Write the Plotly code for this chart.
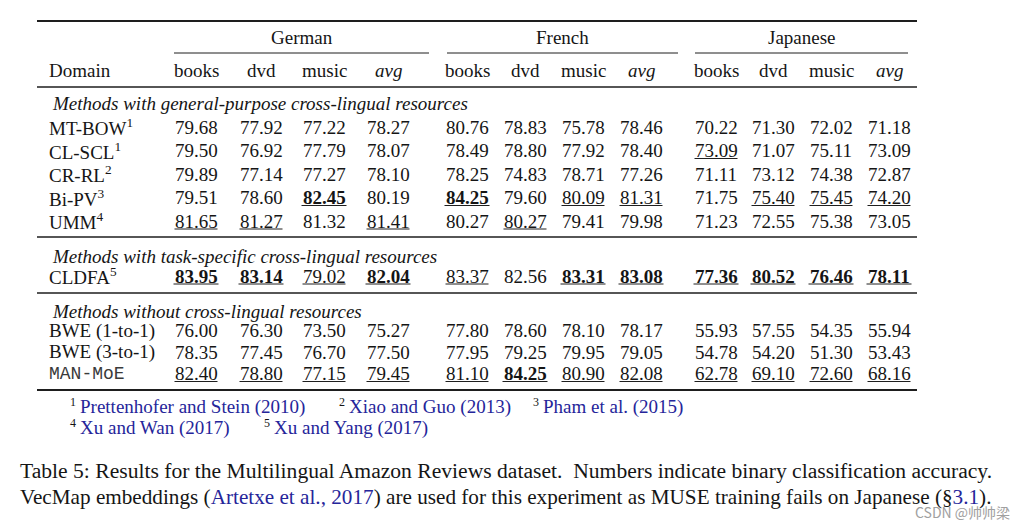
import plotly.graph_objects as go

# ---------------- data ----------------
languages = ["German", "French", "Japanese"]
domains = ["books", "dvd", "music", "avg"]
groups = [
    "Methods with general-purpose cross-lingual resources",
    "Methods with task-specific cross-lingual resources",
    "Methods without cross-lingual resources",
]
group_sizes = [5, 1, 3]
methods = ["MT-BOW", "CL-SCL", "CR-RL", "Bi-PV", "UMM", "CLDFA",
           "BWE (1-to-1)", "BWE (3-to-1)", "MAN-MoE"]
method_refs = ["1", "1", "2", "3", "4", "5", "", "", ""]

german = [
    [79.68, 77.92, 77.22, 78.27],
    [79.50, 76.92, 77.79, 78.07],
    [79.89, 77.14, 77.27, 78.10],
    [79.51, 78.60, 82.45, 80.19],
    [81.65, 81.27, 81.32, 81.41],
    [83.95, 83.14, 79.02, 82.04],
    [76.00, 76.30, 73.50, 75.27],
    [78.35, 77.45, 76.70, 77.50],
    [82.40, 78.80, 77.15, 79.45],
]
french = [
    [80.76, 78.83, 75.78, 78.46],
    [78.49, 78.80, 77.92, 78.40],
    [78.25, 74.83, 78.71, 77.26],
    [84.25, 79.60, 80.09, 81.31],
    [80.27, 80.27, 79.41, 79.98],
    [83.37, 82.56, 83.31, 83.08],
    [77.80, 78.60, 78.10, 78.17],
    [77.95, 79.25, 79.95, 79.05],
    [81.10, 84.25, 80.90, 82.08],
]
japanese = [
    [70.22, 71.30, 72.02, 71.18],
    [73.09, 71.07, 75.11, 73.09],
    [71.11, 73.12, 74.38, 72.87],
    [71.75, 75.40, 75.45, 74.20],
    [71.23, 72.55, 75.38, 73.05],
    [77.36, 80.52, 76.46, 78.11],
    [55.93, 57.55, 54.35, 55.94],
    [54.78, 54.20, 51.30, 53.43],
    [62.78, 69.10, 72.60, 68.16],
]
# best result (bold) and results marked with underline
german_best = [[0, 0, 0, 0], [0, 0, 0, 0], [0, 0, 0, 0], [0, 0, 1, 0], [0, 0, 0, 0],
               [1, 1, 0, 1], [0, 0, 0, 0], [0, 0, 0, 0], [0, 0, 0, 0]]
german_under = [[0, 0, 0, 0], [0, 0, 0, 0], [0, 0, 0, 0], [0, 0, 1, 0], [1, 1, 0, 1],
                [1, 1, 1, 1], [0, 0, 0, 0], [0, 0, 0, 0], [1, 1, 1, 1]]
french_best = [[0, 0, 0, 0], [0, 0, 0, 0], [0, 0, 0, 0], [1, 0, 0, 0], [0, 0, 0, 0],
               [0, 0, 1, 1], [0, 0, 0, 0], [0, 0, 0, 0], [0, 1, 0, 0]]
french_under = [[0, 0, 0, 0], [0, 0, 0, 0], [0, 0, 0, 0], [1, 0, 1, 1], [0, 1, 0, 0],
                [1, 0, 1, 1], [0, 0, 0, 0], [0, 0, 0, 0], [1, 1, 1, 1]]
japanese_best = [[0, 0, 0, 0], [0, 0, 0, 0], [0, 0, 0, 0], [0, 0, 0, 0], [0, 0, 0, 0],
                 [1, 1, 1, 1], [0, 0, 0, 0], [0, 0, 0, 0], [0, 0, 0, 0]]
japanese_under = [[0, 0, 0, 0], [1, 0, 0, 0], [0, 0, 0, 0], [0, 1, 1, 1], [0, 0, 0, 0],
                  [1, 1, 1, 1], [0, 0, 0, 0], [0, 0, 0, 0], [1, 1, 1, 1]]

footnotes = [
    ("1", "Prettenhofer and Stein (2010)"),
    ("2", "Xiao and Guo (2013)"),
    ("3", "Pham et al. (2015)"),
    ("4", "Xu and Wan (2017)"),
    ("5", "Xu and Yang (2017)"),
]
caption_line1 = ("Table 5: Results for the Multilingual Amazon Reviews dataset.  "
                 "Numbers indicate binary classification accuracy.")
caption_cite = "Artetxe et al., 2017"
caption_sec = "3.1"
watermark = "CSDN @帅帅梁"

# ---------------- layout (page pixel grid) ----------------
W, H = 1027, 529
PAD = 8  # default page margin around the plot div
SERIF = "Liberation Serif"
FS = 19
INK = "#151515"
LINK = "#25259a"
RULE = "#1e1e1e"

col_x = [[196, 261, 324, 388], [467, 525, 583, 641], [716, 773, 831, 889]]
cmid_x = [(174, 429), (447, 678), (695, 908)]
rule_x0, rule_x1 = 37, 917
label_x = 47
group_y = [103, 256, 311]
row_y = [127, 150.5, 174, 197.5, 221, 276, 330.5, 352, 373.5]
y_top, y_lang, y_cmid, y_head, y_mid = 21, 37, 53, 70, 87
y_sep = [237, 293]
y_bottom = 390
foot_y = [407, 407, 407, 428, 428]
foot_x = [68, 337, 531, 68, 262]
cap_y = [471, 497]

fig = go.Figure()
ann = []
shapes = []


def text(x, y, s, size=FS, anchor="center", color=INK, family=SERIF):
    ann.append(dict(x=x, y=y, xref="x", yref="y", text=s, showarrow=False,
                    xanchor=anchor, yanchor="middle",
                    font=dict(family=family, size=size, color=color)))


def hline(x0, x1, y, w):
    shapes.append(dict(type="line", xref="x", yref="y", x0=x0, x1=x1, y0=y, y1=y,
                       line=dict(color=RULE, width=w)))


# rules
hline(rule_x0, rule_x1, y_top, 2)
hline(rule_x0, rule_x1, y_mid, 1.3)
for y in y_sep:
    hline(rule_x0, rule_x1, y, 1.3)
hline(rule_x0, rule_x1, y_bottom, 2.2)
for (a, b) in cmid_x:
    hline(a, b, y_cmid, 1)

# headers
for li, lang in enumerate(languages):
    text((cmid_x[li][0] + cmid_x[li][1]) / 2, y_lang, lang)
    for di, d in enumerate(domains):
        text(col_x[li][di], y_head, "<i>avg</i>" if d == "avg" else d)
text(label_x, y_head, "Domain", anchor="left")

for gi, g in enumerate(groups):
    text(label_x + 3, group_y[gi], "<i>" + g + "</i>", anchor="left")

# rows
tables = [(german, german_best, german_under),
          (french, french_best, french_under),
          (japanese, japanese_best, japanese_under)]
for ri, m in enumerate(methods):
    y = row_y[ri]
    if m == "MAN-MoE":
        text(label_x, y, m, size=18, anchor="left", color="#3a3a3a",
             family="Liberation Mono")
    else:
        lbl = m + ("<sup>" + method_refs[ri] + "</sup>" if method_refs[ri] else "")
        text(label_x, y, lbl, anchor="left")
    for li, (vals, best, under) in enumerate(tables):
        for di in range(4):
            v = "%.2f" % vals[ri][di]
            cx = col_x[li][di]
            text(cx, y, "<b>" + v + "</b>" if best[ri][di] else v)
            if under[ri][di]:
                half = 22.5 if best[ri][di] else 21.5
                hline(cx - half, cx + half, y + 8, 1)

# footnotes
for (num, cite), fx, fy in zip(footnotes, foot_x, foot_y):
    text(fx, fy - 5, num, size=12, anchor="left")
    text(fx + 10, fy, cite, size=19, anchor="left", color=LINK)

# caption (first line justified to full width, second line natural)
text(18, cap_y[0], caption_line1, size=21.6, anchor="left")
line2 = ("VecMap embeddings (<span style='color:%s'>%s</span>) are used for this "
         "experiment as MUSE training fails on Japanese (§<span style='color:%s'>%s</span>)."
         % (LINK, caption_cite, LINK, caption_sec))
text(18, cap_y[1], line2, size=21.2, anchor="left")

# watermark
text(1012, 512, watermark, size=14, anchor="right", color="#a0a0a0",
     family="Noto Sans CJK SC")

# the plot div sits PAD px inside the page; map axis units to page pixels
fig.update_layout(
    width=W - 2 * PAD, height=H - 2 * PAD, margin=dict(l=0, r=0, t=0, b=0),
    paper_bgcolor="white", plot_bgcolor="white",
    xaxis=dict(range=[PAD, W - PAD], visible=False, fixedrange=True),
    yaxis=dict(range=[H - PAD, PAD], visible=False, fixedrange=True),
    annotations=ann, shapes=shapes, showlegend=False,
)
fig.write_html("out.html")
